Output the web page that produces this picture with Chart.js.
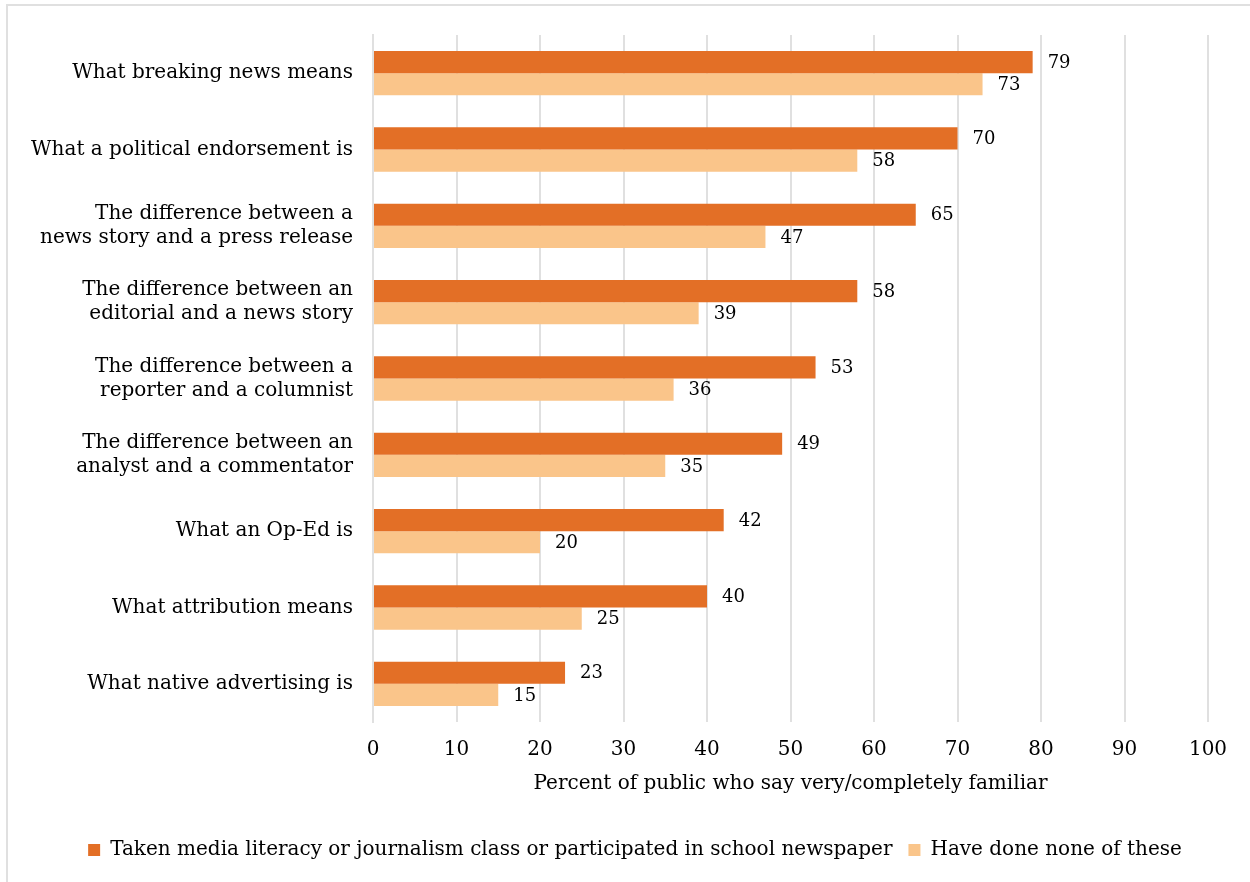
<!DOCTYPE html>
<html>
<head>
<meta charset="utf-8">
<script src="https://cdn.jsdelivr.net/npm/chart.js@4"></script>
<style>
html,body{margin:0;padding:0;background:#fff;}
#wrap{position:absolute;left:0;top:0;width:1250px;height:882px;}
#frame{position:absolute;left:6px;top:4px;width:1244px;height:878px;border-left:2px solid #e0e0e0;border-top:2px solid #e0e0e0;box-sizing:border-box;}
canvas{position:absolute;left:0;top:0;}
</style>
</head>
<body>
<div id="wrap">
<div id="frame"></div>
<canvas id="c" width="1250" height="882"></canvas>
</div>
<script>
const categories = [
  "What breaking news means",
  "What a political endorsement is",
  ["The difference between a", "news story and a press release"],
  ["The difference between an", "editorial and a news story"],
  ["The difference between a", "reporter and a columnist"],
  ["The difference between an", "analyst and a commentator"],
  "What an Op-Ed is",
  "What attribution means",
  "What native advertising is"
];
const seriesNames = [
  "Taken media literacy or journalism class or participated in school newspaper",
  "Have done none of these"
];
const takenClass = [79, 70, 65, 58, 53, 49, 42, 40, 23];
const doneNone = [73, 58, 47, 39, 36, 35, 20, 25, 15];
const xTicks = [0, 10, 20, 30, 40, 50, 60, 70, 80, 90, 100];
const axisTitle = "Percent of public who say very/completely familiar";

const FONT = "'DejaVu Serif', serif";

const valueLabels = {
  id: 'valueLabels',
  afterDatasetsDraw(chart) {
    const ctx = chart.ctx;
    ctx.save();
    ctx.font = "18px " + FONT;
    ctx.fillStyle = "#000";
    ctx.textAlign = "left";
    ctx.textBaseline = "middle";
    chart.data.datasets.forEach((ds, di) => {
      const meta = chart.getDatasetMeta(di);
      meta.data.forEach((bar, i) => {
        ctx.fillText(String(ds.data[i]), bar.x + 15, bar.y + 1);
      });
    });
    ctx.restore();
  }
};

// centre the legend on the canvas rather than on the padded box
const legendShift = {
  id: 'legendShift',
  afterLayout(chart) {
    const lg = chart.legend;
    if (!lg) return;
    const shift = (chart.width - (lg.left + lg.right)) / 2 + 10;
    lg.left += shift;
    lg.right += shift;
  }
};

new Chart(document.getElementById('c'), {
  type: 'bar',
  data: {
    labels: categories,
    datasets: [
      { label: seriesNames[0], data: takenClass, backgroundColor: '#E36F26',
        categoryPercentage: 0.58, barPercentage: 1.0 },
      { label: seriesNames[1], data: doneNone, backgroundColor: '#FAC58A',
        categoryPercentage: 0.58, barPercentage: 1.0 }
    ]
  },
  options: {
    indexAxis: 'y',
    responsive: false,
    animation: false,
    layout: { padding: { left: 20, right: 42, top: 35, bottom: 12 } },
    plugins: {
      legend: {
        position: 'bottom',
        labels: {
          boxWidth: 12, boxHeight: 12, padding: 16,
          color: '#000',
          font: { family: FONT, size: 20 }
        }
      },
      tooltip: { enabled: false }
    },
    scales: {
      x: {
        min: 0, max: 100,
        afterBuildTicks(scale) { scale.ticks = xTicks.map(v => ({ value: v })); },
        afterFit(scale) { scale.height = 102; },
        grid: { color: '#e0e0e0', lineWidth: 2, drawTicks: false },
        border: { display: false },
        ticks: { color: '#000', padding: 16, font: { family: FONT, size: 20 } },
        title: { display: true, text: axisTitle, color: '#000', padding: { top: 0, bottom: 28 },
                 font: { family: FONT, size: 20 } }
      },
      y: {
        afterFit(scale) { scale.width = 373 - 20; },
        grid: { display: false, drawTicks: false },
        border: { display: true, color: '#e0e0e0', width: 2 },
        ticks: { color: '#000', padding: 20, font: { family: FONT, size: 20 } }
      }
    }
  },
  plugins: [valueLabels, legendShift]
});
</script>
</body>
</html>
